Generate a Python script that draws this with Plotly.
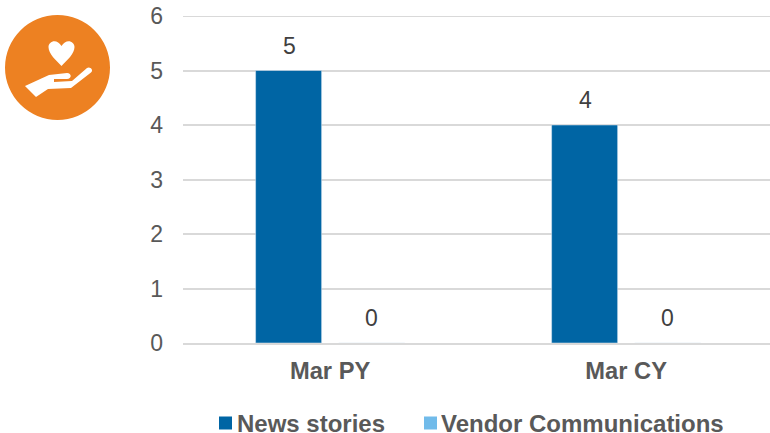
import plotly.graph_objects as go

categories = ["Mar PY", "Mar CY"]
news_stories = [5, 4]
vendor_comms = [0, 0]
y_ticks = [0, 1, 2, 3, 4, 5, 6]
series_names = ["News stories", "Vendor Communications"]
series_colors = ["#0065A4", "#71BBEA"]

W, H = 770, 433
L, R, T, B = 183, 770, 16, 343
FONT = "Liberation Sans"
GREY = "#595959"
GRID = "#D9D9D9"


def fx(x):
    return (x - L) / (R - L)


def fy(y):
    return (B - y) / (B - T)


def px(x, y):
    return f"{fx(x):.5f},{fy(y):.5f}"


def path(cmds):
    out = []
    for c in cmds:
        if isinstance(c, str):
            out.append(c)
        else:
            out.append(" ".join(px(*p) for p in c))
    return " ".join(out)


heart = path(["M", [(61.5, 66)], "C", [(56, 60), (48.5, 54), (48.5, 47)],
              "C", [(48.5, 41), (57, 38), (61.5, 46)],
              "C", [(66, 38), (74.5, 41), (74.5, 47)],
              "C", [(74.5, 54), (67, 60), (61.5, 66)], "Z"])
hand = path(["M", [(25, 86)], "L", [(49, 75)], "L", [(67, 73)],
             "C", [(72, 73), (72, 79), (67, 79)], "L", [(54, 79)], "L", [(54, 82)],
             "L", [(72, 81)], "L", [(87, 68)],
             "C", [(90, 66), (94, 70), (91, 72.5)],
             "L", [(71, 88)], "L", [(48, 89)], "L", [(36, 97)], "Z"])

shapes = [
    dict(type="circle", xref="paper", yref="paper",
         x0=fx(5), x1=fx(110), y0=fy(120), y1=fy(15),
         fillcolor="#ED8122", line_width=0, layer="above"),
    dict(type="path", xref="paper", yref="paper", path=heart,
         fillcolor="white", line_width=0, layer="above"),
    dict(type="path", xref="paper", yref="paper", path=hand,
         fillcolor="white", line_width=0, layer="above"),
    dict(type="line", xref="paper", yref="y", x0=0, x1=1, y0=y_ticks[-1], y1=y_ticks[-1],
         line=dict(color=GRID, width=2), layer="below"),
]

fig = go.Figure()
fig.add_bar(name=series_names[0], x=categories, y=news_stories, marker_color=series_colors[0])
fig.add_bar(name=series_names[1], x=categories, y=vendor_comms, marker_color=series_colors[1])

annotations = []
for values, shift in ((news_stories, -41), (vendor_comms, 41.5)):
    for c, v in zip(categories, values):
        annotations.append(dict(x=c, y=v, xref="x", yref="y", text=str(v), showarrow=False,
                                xshift=shift, yshift=25,
                                font=dict(family=FONT, size=23, color="#404040")))

# Legend drawn by hand so swatch-to-text gaps match the reference
for name, color, swatch_x, text_x in zip(series_names, series_colors, (219, 424), (238, 442)):
    shapes.append(dict(type="rect", xref="paper", yref="paper",
                       x0=fx(swatch_x), x1=fx(swatch_x + 13), y0=fy(429.5), y1=fy(416.5),
                       fillcolor=color, line_width=0))
    annotations.append(dict(x=fx(text_x), y=fy(411), xref="paper", yref="paper", text=name,
                            showarrow=False, xanchor="left", yanchor="top", xshift=-2,
                            height=22, borderpad=0, valign="middle",
                            font=dict(family=FONT, size=24, color=GREY, weight="bold")))

fig.update_layout(
    width=W, height=H,
    margin=dict(l=L, r=W - R, t=T, b=H - B, pad=0, autoexpand=False),
    paper_bgcolor="white", plot_bgcolor="white",
    barmode="group", bargap=0.439, bargroupgap=0.205,
    font=dict(family=FONT, size=23, color=GREY),
    showlegend=False,
    shapes=shapes,
    annotations=annotations,
)
fig.update_xaxes(range=[-0.497, 1.486], showgrid=False, showline=True, linecolor=GRID, linewidth=2,
                 ticks="", ticklabelstandoff=6, automargin=False,
                 tickfont=dict(family=FONT, size=23.7, color=GREY, weight="bold"))
fig.update_yaxes(range=[0, 6], tickvals=y_ticks, showgrid=True, gridcolor=GRID, gridwidth=2,
                 zeroline=False, showline=False, ticks="", ticklabelstandoff=19, automargin=False,
                 tickfont=dict(family=FONT, size=23, color=GREY))
fig.write_html("out.html", config={"displayModeBar": False},
               post_script="document.body.style.margin='0';document.body.style.padding='0';")
